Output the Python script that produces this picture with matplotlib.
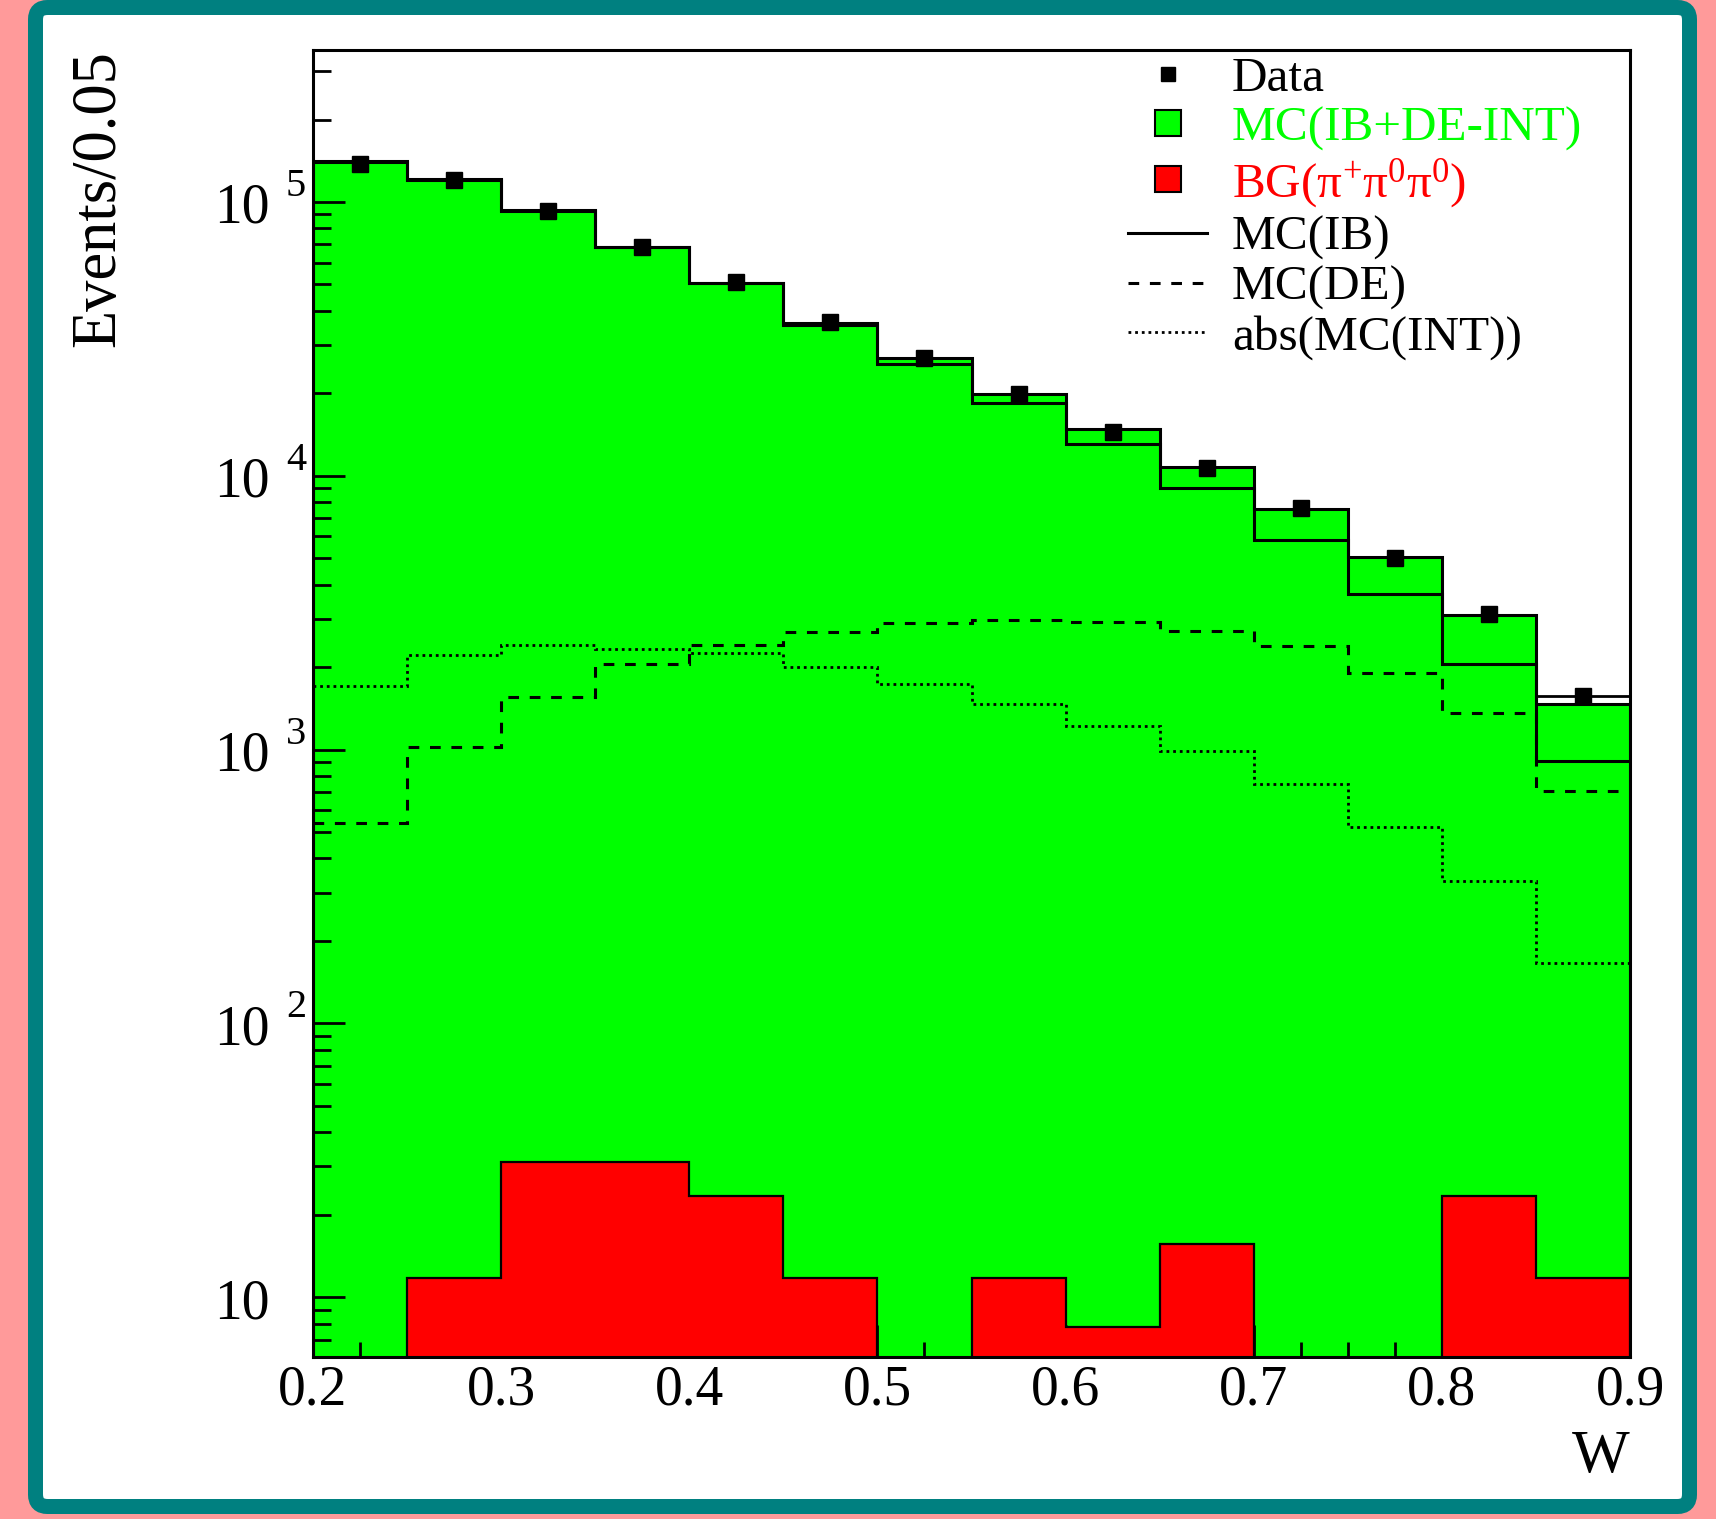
import numpy as np
import matplotlib
matplotlib.use("Agg")
import matplotlib.pyplot as plt
from matplotlib.lines import Line2D
from matplotlib.patches import FancyBboxPatch
import matplotlib.transforms as mtransforms

plt.rcParams['font.family'] = ['Liberation Serif', 'DejaVu Serif']
plt.rcParams['mathtext.fontset'] = 'custom'
plt.rcParams['mathtext.rm'] = 'Liberation Serif'
plt.rcParams['mathtext.it'] = 'Liberation Serif'

# W bins (width 0.05)
w_edges = [0.20, 0.25, 0.30, 0.35, 0.40, 0.45, 0.50, 0.55,
           0.60, 0.65, 0.70, 0.75, 0.80, 0.85, 0.90]
w_centers = [0.225, 0.275, 0.325, 0.375, 0.425, 0.475, 0.525,
             0.575, 0.625, 0.675, 0.725, 0.775, 0.825, 0.875]

data = [1.38e5, 1.20e5, 9.25e4, 6.85e4, 5.08e4, 3.65e4, 2.70e4,
        1.99e4, 1.45e4, 1.07e4, 7.6e3, 5.0e3, 3.12e3, 1.57e3]
mc_fill = [1.40e5, 1.20e5, 9.25e4, 6.84e4, 5.05e4, 3.62e4, 2.70e4,
           1.99e4, 1.476e4, 1.08e4, 7.54e3, 5.07e3, 3.10e3, 1.47e3]
mc_sum = [1.40e5, 1.20e5, 9.25e4, 6.84e4, 5.05e4, 3.62e4, 2.70e4,
          1.99e4, 1.476e4, 1.08e4, 7.54e3, 5.07e3, 3.10e3, 1.57e3]
mc_ib = [1.41e5, 1.21e5, 9.34e4, 6.86e4, 5.04e4, 3.55e4, 2.56e4,
         1.84e4, 1.31e4, 9.0e3, 5.84e3, 3.70e3, 2.05e3, 908]
mc_de = [537, 1020, 1550, 2060, 2400, 2690, 2890,
         2970, 2920, 2700, 2390, 1910, 1360, 708]
mc_int = [1710, 2210, 2400, 2320, 2250, 2000, 1740,
          1470, 1220, 988, 751, 520, 332, 166]
bg = [0, 11.7, 31.2, 31.2, 23.4, 11.7, 0,
      11.7, 7.8, 15.6, 0, 0, 23.4, 11.7]

y_decades = [10, 100, 1000, 10000, 100000]
y_exps = ['', '2', '3', '4', '5']

GREEN = '#00ff00'
RED = '#ff0000'
YMIN, YMAX = 6.04, 3.59e5

fig = plt.figure(figsize=(17.16, 15.19), dpi=100)
fig.patch.set_facecolor('#ff9a9a')

# teal rounded frame behind everything
frame = FancyBboxPatch((35.5, 12.5), 1654, 1499, transform=None,
                       boxstyle='round,pad=0,rounding_size=12',
                       facecolor='white', edgecolor='#008080', linewidth=10.8, zorder=-10)
fig.patches.append(frame)

ax = fig.add_axes([0.1824, 0.1066, 0.9499 - 0.1824, 0.9671 - 0.1066])
ax.set_yscale('log')
ax.set_xlim(0.2, 0.9)
ax.set_ylim(YMIN, YMAX)

edges = np.array(w_edges)
base = 1.0

ax.stairs(mc_fill, edges, baseline=base, fill=True, facecolor=GREEN,
          edgecolor='black', linewidth=2.2, zorder=1)
ax.stairs(mc_sum, edges, baseline=None, color='black', linewidth=2.0, zorder=1.5)

bg_draw = np.where(np.array(bg) > 0, bg, base)
ax.stairs(bg_draw, edges, baseline=base, fill=True, facecolor=RED,
          edgecolor='black', linewidth=1.6, zorder=3)

ax.stairs(mc_ib, edges, baseline=None, color='black', linewidth=2.2, zorder=4)
ax.stairs(mc_de, edges, baseline=None, color='black', linewidth=2.2,
          linestyle=(0, (3.5, 3.5)), zorder=4)
ax.stairs(mc_int, edges, baseline=None, color='black', linewidth=2.0,
          linestyle=(0, (1, 1.4)), zorder=4)

ax.plot(w_centers, data, ls='none', marker='s', color='black', markersize=12, zorder=5)

# ticks (ROOT-like, inward, left/bottom only)
ax.set_xticks(np.arange(0.2, 0.91, 0.1))
ax.set_xticks(np.arange(0.2, 0.9001, 0.025), minor=True)
ax.set_xticklabels(['0.2', '0.3', '0.4', '0.5', '0.6', '0.7', '0.8', '0.9'])
ax.tick_params(axis='x', which='major', direction='in', length=23, width=2,
               labelsize=40, pad=5, top=False)
ax.tick_params(axis='x', which='minor', direction='in', length=11, width=2, top=False)
ax.tick_params(axis='y', which='major', direction='in', length=23, width=2,
               labelleft=False, right=False)
ax.tick_params(axis='y', which='minor', direction='in', length=13, width=2, right=False)
for s in ax.spines.values():
    s.set_linewidth(2.2)
    s.set_zorder(6)

# y tick labels as "10" with raised exponent
ytrans = mtransforms.blended_transform_factory(ax.transAxes, ax.transData)
base_tr = mtransforms.offset_copy(ytrans, fig=fig, y=-21, units='dots')
exp_tr = mtransforms.offset_copy(ytrans, fig=fig, y=6, units='dots')
for val, e in zip(y_decades, y_exps):
    ax.text(-0.0327, val, '10', transform=base_tr, ha='right', va='baseline',
            fontsize=40, clip_on=False)
    if e:
        ax.text(-0.0205, val, e, transform=exp_tr, ha='left', va='baseline',
                fontsize=29, clip_on=False)

ax.text(-0.1623, 1.0, 'Events/0.05', transform=ax.transAxes, rotation=90,
        ha='center', va='top', fontsize=45)
ax.text(1.0, -0.0765, 'W', transform=ax.transAxes, ha='right', va='center', fontsize=44)

handles = [
    Line2D([], [], ls='none', marker='s', color='black', markersize=10),
    Line2D([], [], ls='none', marker='s', markerfacecolor=GREEN,
           markeredgecolor='black', markeredgewidth=1.5, markersize=19),
    Line2D([], [], ls='none', marker='s', markerfacecolor=RED,
           markeredgecolor='black', markeredgewidth=1.5, markersize=19),
    Line2D([], [], color='black', lw=2.2),
    Line2D([], [], color='black', lw=2.2, ls=(0, (3.5, 3.5))),
    Line2D([], [], color='black', lw=2.0, ls=(0, (1, 1.4))),
]
labels = ['Data', 'MC(IB+DE-INT)', r'BG($\mathregular{\pi^{+}\pi^{0}\pi^{0}}$)',
          'MC(IB)', 'MC(DE)', 'abs(MC(INT))']
leg = ax.legend(handles, labels, loc='upper left', bbox_to_anchor=(0.619, 0.995),
                frameon=False, fontsize=35.5, handlelength=1.6, handletextpad=0.5,
                labelspacing=0.1, borderpad=0, borderaxespad=0.0)
leg.set_zorder(7)
txts = leg.get_texts()
txts[1].set_color(GREEN)
txts[2].set_color(RED)

fig.savefig('out.png', dpi=100, facecolor=fig.get_facecolor())
